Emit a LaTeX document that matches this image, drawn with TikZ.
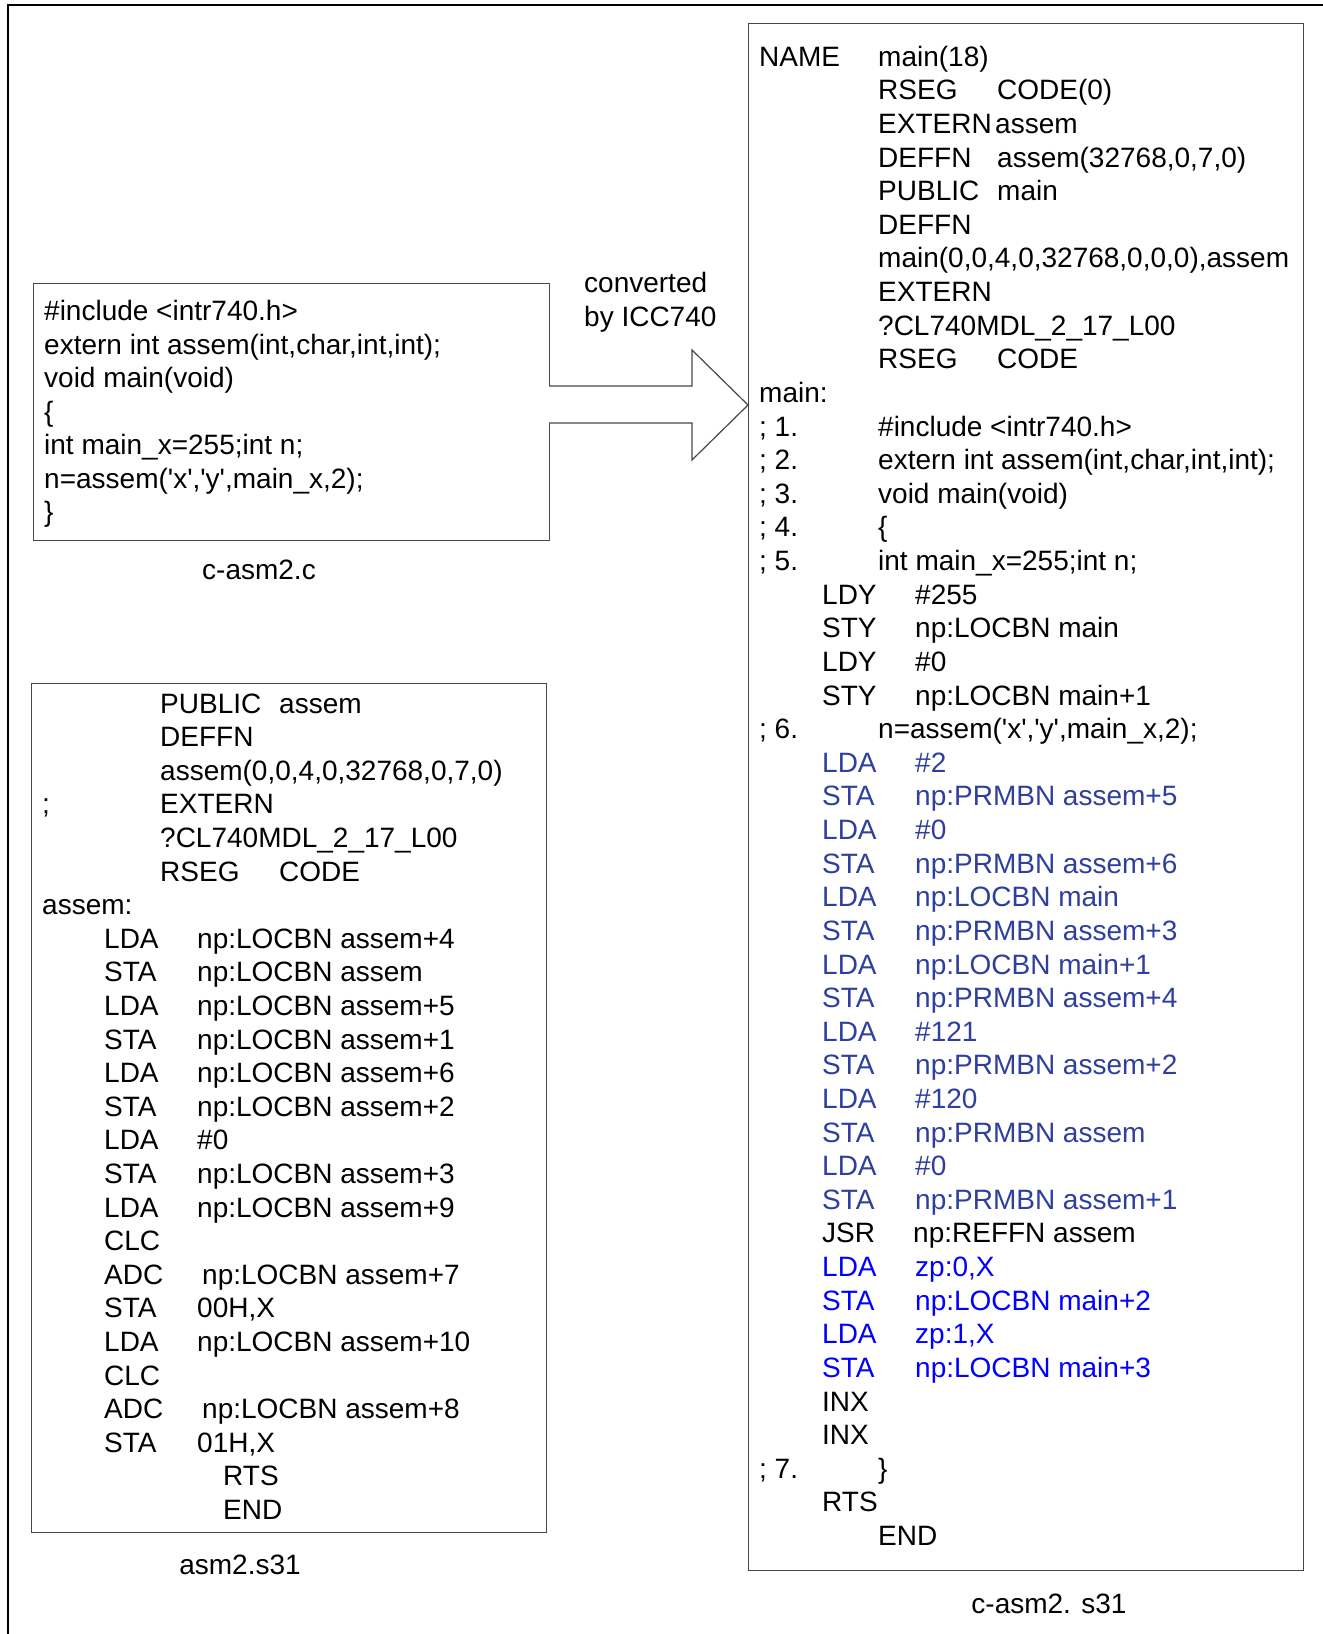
\documentclass[tikz,border=0pt]{standalone}
\usepackage{fontspec}
\setmainfont{Liberation Sans}
\definecolor{asmblue}{RGB}{46,63,158}
\definecolor{pureblue}{RGB}{0,0,255}
\tikzset{
  code/.style={anchor=base west, inner sep=0pt, font=\fontsize{28}{33.6}\selectfont},
  lbl/.style={anchor=base, inner sep=0pt, font=\fontsize{28}{33.6}\selectfont},
  box/.style={draw=black!72, line width=1.2pt, anchor=north west, inner sep=0pt},
  frame/.style={draw=black, line width=2.2pt},
  bigarrow/.style={draw=black!72, line width=1.2pt, fill=white, line join=miter},
}
\newcommand\q{\textquotesingle}
\begin{document}
\begin{tikzpicture}[x=1pt,y=-1pt]
\useasboundingbox[fill=white] (0,0) rectangle (1323,1634);
% outer frame (cropped at right and bottom)
\draw[frame] (8,1634) -- (8,5) -- (1323,5);

% boxes
\node[box, minimum width=516pt, minimum height=257pt] (csrc) at (33,283) {};
\node[box, minimum width=515pt, minimum height=849pt] (asmsrc) at (31,683) {};
\node[box, minimum width=555pt, minimum height=1547pt] (casm) at (748,23) {};

% block arrow
\coordinate (a1) at (549,386);
\coordinate (a2) at (692,386);
\coordinate (a3) at (692,350);
\coordinate (tip) at (748,405);
\coordinate (a5) at (692,460);
\coordinate (a6) at (692,423);
\coordinate (a7) at (549,423);
\draw[bigarrow] (a1) -- (a2) -- (a3) -- (tip) -- (a5) -- (a6) -- (a7);

% labels
\node[lbl] (lab1) at (259,579) {c-asm2.c};
\node[lbl] (lab2) at (240,1574) {asm2.s31};
\node[lbl] (lab3) at (1049,1613) {c-asm2. s31};
\node[code] (conv1) at (584,292) {converted};
\node[code] (conv2) at (584,326) {by ICC740};

% c-asm2.c
\foreach \t [count=\i] in {
  {\#include <intr740.h>},
  {extern int assem(int,char,int,int);},
  {void main(void)},
  {\{},
  {int main\_x=255;int n;},
  {n=assem(\q x\q,\q y\q,main\_x,2);},
  {\}}}
  \node[code] (c\i) at (44,{320.5+33.5*(\i-1)}) {\t};

% asm2.s31
\foreach \n/\x/\t [count=\k] in {
  1/160/PUBLIC, 1/279/assem,
  2/160/DEFFN,
  3/160/{assem(0,0,4,0,32768,0,7,0)},
  4/42/{;}, 4/160/EXTERN,
  5/160/{?CL740MDL\_2\_17\_L00},
  6/160/RSEG, 6/279/CODE,
  7/42/{assem:},
  8/104/LDA, 8/197/{np:LOCBN assem+4},
  9/104/STA, 9/197/{np:LOCBN assem},
  10/104/LDA, 10/197/{np:LOCBN assem+5},
  11/104/STA, 11/197/{np:LOCBN assem+1},
  12/104/LDA, 12/197/{np:LOCBN assem+6},
  13/104/STA, 13/197/{np:LOCBN assem+2},
  14/104/LDA, 14/197/{\#0},
  15/104/STA, 15/197/{np:LOCBN assem+3},
  16/104/LDA, 16/197/{np:LOCBN assem+9},
  17/104/CLC,
  18/104/ADC, 18/202/{np:LOCBN assem+7},
  19/104/STA, 19/197/{00H,X},
  20/104/LDA, 20/197/{np:LOCBN assem+10},
  21/104/CLC,
  22/104/ADC, 22/202/{np:LOCBN assem+8},
  23/104/STA, 23/197/{01H,X},
  24/223/RTS,
  25/223/END}
  \node[code] (s\k) at (\x,{713+33.6*(\n-1)}) {\t};

% c-asm2.s31 (black lines)
\foreach \n/\x/\t [count=\k] in {
  1/759/NAME, 1/878/{main(18)},
  2/878/RSEG, 2/997/{CODE(0)},
  3/878/EXTERN, 3/995/assem,
  4/878/DEFFN, 4/997/{assem(32768,0,7,0)},
  5/878/PUBLIC, 5/997/main,
  6/878/DEFFN,
  7/878/{main(0,0,4,0,32768,0,0,0),assem},
  8/878/EXTERN,
  9/878/{?CL740MDL\_2\_17\_L00},
  10/878/RSEG, 10/997/CODE,
  11/759/{main:},
  12/759/{; 1.}, 12/878/{\#include <intr740.h>},
  13/759/{; 2.}, 13/878/{extern int assem(int,char,int,int);},
  14/759/{; 3.}, 14/878/{void main(void)},
  15/759/{; 4.}, 15/878/{\{},
  16/759/{; 5.}, 16/878/{int main\_x=255;int n;},
  17/822/LDY, 17/915/{\#255},
  18/822/STY, 18/915/{np:LOCBN main},
  19/822/LDY, 19/915/{\#0},
  20/822/STY, 20/915/{np:LOCBN main+1},
  21/759/{; 6.}, 21/878/{n=assem(\q x\q,\q y\q,main\_x,2);},
  36/822/JSR, 36/913/{np:REFFN assem},
  41/822/INX,
  42/822/INX,
  43/759/{; 7.}, 43/878/{\}},
  44/822/RTS,
  45/878/END}
  \node[code] (r\k) at (\x,{66.25+33.62*(\n-1)}) {\t};

% c-asm2.s31 (dark blue block)
\foreach \n/\op/\arg in {
  22/LDA/{\#2}, 23/STA/{np:PRMBN assem+5},
  24/LDA/{\#0}, 25/STA/{np:PRMBN assem+6},
  26/LDA/{np:LOCBN main}, 27/STA/{np:PRMBN assem+3},
  28/LDA/{np:LOCBN main+1}, 29/STA/{np:PRMBN assem+4},
  30/LDA/{\#121}, 31/STA/{np:PRMBN assem+2},
  32/LDA/{\#120}, 33/STA/{np:PRMBN assem},
  34/LDA/{\#0}, 35/STA/{np:PRMBN assem+1}}
{
  \node[code, text=asmblue] (bo\n) at (822,{66.25+33.62*(\n-1)}) {\op};
  \node[code, text=asmblue] (ba\n) at (915,{66.25+33.62*(\n-1)}) {\arg};
}

% c-asm2.s31 (pure blue block)
\foreach \n/\op/\arg in {
  37/LDA/{zp:0,X}, 38/STA/{np:LOCBN main+2},
  39/LDA/{zp:1,X}, 40/STA/{np:LOCBN main+3}}
{
  \node[code, text=pureblue] (po\n) at (822,{66.25+33.62*(\n-1)}) {\op};
  \node[code, text=pureblue] (pa\n) at (915,{66.25+33.62*(\n-1)}) {\arg};
}
\end{tikzpicture}
\end{document}
